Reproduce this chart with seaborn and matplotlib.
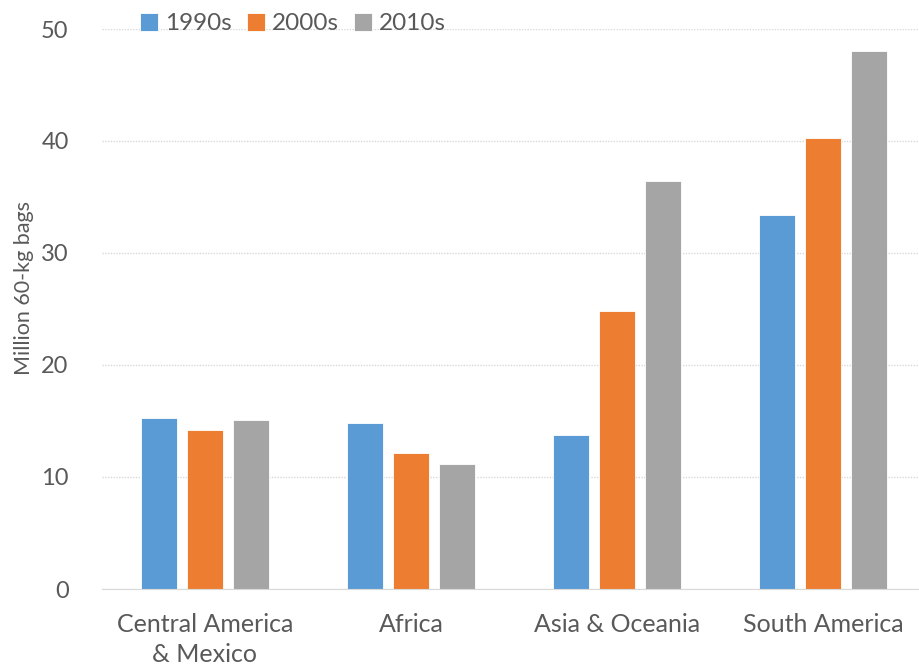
import pandas as pd
import matplotlib.pyplot as plt
import seaborn as sns

# 지역, 연대별 값 (Million 60-kg bags)
regions = ['Central America\n& Mexico', 'Africa', 'Asia & Oceania', 'South America']
decades = ['1990s', '2000s', '2010s']
v1990s = [15.25, 14.8, 13.75, 33.4]
v2000s = [14.2, 12.1, 24.85, 40.3]
v2010s = [15.05, 11.2, 36.4, 48.05]
colors = ['#5B9BD5', '#ED7D31', '#A5A5A5']

df = pd.DataFrame({
    'region': regions * 3,
    'decade': [d for d in decades for _ in regions],
    'value': v1990s + v2000s + v2010s,
})

sns.set_style('white')
plt.rcParams['font.family'] = ['Lato', 'DejaVu Sans']
text_color = '#595959'

fig = plt.figure(figsize=(9.2, 6.69), dpi=100)
ax = fig.add_axes([102 / 920, 1 - 589 / 669, 824 / 920, 560 / 669])

sns.barplot(data=df, x='region', y='value', hue='decade', palette=colors,
            width=0.67, gap=0.217, ax=ax, saturation=1, legend=True,
            edgecolor='white', linewidth=0.6)

ax.set_xlim(-0.5, 3.5)
ax.set_ylim(0, 50)
ax.set_yticks([0, 10, 20, 30, 40, 50])
ax.yaxis.grid(True, color='#D9D9D9', linestyle=(0, (1, 1)), linewidth=1)
ax.set_axisbelow(True)
for s in ['top', 'right', 'left']:
    ax.spines[s].set_visible(False)
ax.spines['bottom'].set_color('#D9D9D9')
ax.tick_params(axis='both', length=0, colors=text_color)
ax.tick_params(axis='y', pad=24, labelsize=17)
ax.tick_params(axis='x', pad=17, labelsize=18)
for lab in ax.get_xticklabels():
    lab.set_linespacing(1.4)
ax.set_xlabel('')
ax.set_ylabel('Million 60-kg bags', fontsize=15.5, color=text_color)
ax.yaxis.set_label_coords((34 - 102) / 824, (589 - 288) / 560)

leg = ax.legend(loc='upper left', bbox_to_anchor=(130 / 920, 1 - 3 / 669), bbox_transform=fig.transFigure,
                ncol=3, frameon=False, fontsize=17.5, handlelength=0.75, handleheight=0.75,
                handletextpad=0.3, columnspacing=0.6, borderaxespad=0)
for t in leg.get_texts():
    t.set_color(text_color)

fig.savefig('out.png', dpi=100)
